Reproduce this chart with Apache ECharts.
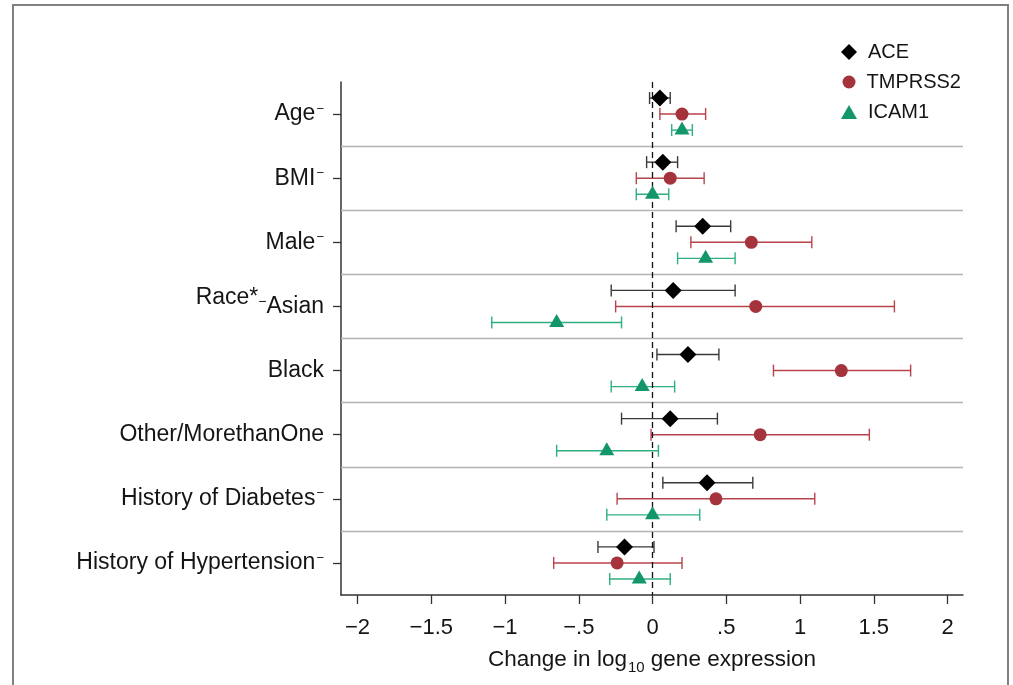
<!DOCTYPE html>
<html>
<head>
<meta charset="utf-8">
<script src="https://cdn.jsdelivr.net/npm/echarts@6/dist/echarts.min.js"></script>
<style>
  html, body { margin: 0; padding: 0; background: #fff; }
  #chart { width: 1013px; height: 685px; }
</style>
</head>
<body>
<div id="chart"></div>
<script>
// Covariate rows, top to bottom
const categories = ['Age', 'BMI', 'Male', 'Asian', 'Black', 'Other/MorethanOne', 'History of Diabetes', 'History of Hypertension'];
// Rows whose label carries the small raised dash
const dashedLabels = ['Age', 'BMI', 'Male', 'History of Diabetes', 'History of Hypertension'];

// Estimates and 95% CI bounds (change in log10 gene expression)
const aceEst  = [0.05, 0.07, 0.34, 0.14, 0.24, 0.12, 0.37, -0.19];
const aceLow  = [-0.02, -0.04, 0.16, -0.28, 0.03, -0.21, 0.07, -0.37];
const aceHigh = [0.12, 0.17, 0.53, 0.56, 0.45, 0.44, 0.68, 0.01];

const tmpEst  = [0.20, 0.12, 0.67, 0.70, 1.28, 0.73, 0.43, -0.24];
const tmpLow  = [0.05, -0.11, 0.26, -0.25, 0.82, -0.01, -0.24, -0.67];
const tmpHigh = [0.36, 0.35, 1.08, 1.64, 1.75, 1.47, 1.10, 0.20];

const icamEst  = [0.20, 0.00, 0.36, -0.65, -0.07, -0.31, 0.00, -0.09];
const icamLow  = [0.13, -0.11, 0.17, -1.09, -0.28, -0.65, -0.31, -0.29];
const icamHigh = [0.27, 0.11, 0.56, -0.21, 0.15, 0.04, 0.32, 0.12];

const xTicks = [-2, -1.5, -1, -0.5, 0, 0.5, 1, 1.5, 2];

const FONT = "'Liberation Sans', Arial, Helvetica, sans-serif";
const TEXT = '#151515';

const chart = echarts.init(document.getElementById('chart'), null, { renderer: 'canvas' });

// Vertical position of each gene within a covariate band
function rows(values, shift) {
  return values.map((v, i) => [v, i + shift]);
}
function ciRows(lows, highs, shift) {
  return lows.map((lo, i) => [lo, highs[i], i + shift]);
}

function tickLabel(v) {
  if (v === 0) return '0';
  const s = String(Math.abs(v)).replace(/^0/, '');
  return (v < 0 ? '\u2212' : '') + s;
}

function errorBars(name, data, color) {
  return {
    name: name + ' CI',
    type: 'custom',
    xAxisIndex: 0,
    yAxisIndex: 1,
    z: 3,
    silent: true,
    data: data,
    encode: { x: [0, 1], y: 2 },
    renderItem: function (params, api) {
      const y = api.value(2);
      const a = api.coord([api.value(0), y]);
      const b = api.coord([api.value(1), y]);
      const cap = 6;
      const style = { stroke: color, lineWidth: 1.4, fill: null };
      return {
        type: 'group',
        children: [
          { type: 'line', shape: { x1: a[0], y1: a[1], x2: b[0], y2: b[1] }, style: style },
          { type: 'line', shape: { x1: a[0], y1: a[1] - cap, x2: a[0], y2: a[1] + cap }, style: style },
          { type: 'line', shape: { x1: b[0], y1: b[1] - cap, x2: b[0], y2: b[1] + cap }, style: style }
        ]
      };
    }
  };
}

function legendFor(name, left, top, w, h) {
  return {
    data: [name],
    left: left,
    top: top,
    orient: 'vertical',
    padding: 0,
    itemWidth: w,
    itemHeight: h,
    selectedMode: false,
    formatter: '{t|{name}}',
    textStyle: {
      rich: { t: { fontFamily: FONT, fontSize: 20, color: TEXT, lineHeight: 22, padding: [0, 0, 0, 6] } }
    }
  };
}

const option = {
  backgroundColor: '#fff',
  animation: false,
  graphic: [
    {
      type: 'rect',
      silent: true,
      z: -10,
      shape: { x: 13, y: 5, width: 995, height: 720 },
      style: { fill: null, stroke: '#808080', lineWidth: 2 }
    }
  ],
  legend: [
    legendFor('ACE', 841, 42, 16, 16),
    legendFor('TMPRSS2', 842.5, 72, 13, 13),
    legendFor('ICAM1', 841, 102, 16, 14)
  ],
  grid: { left: 341, right: 50, top: 82, bottom: 90, containLabel: false },
  xAxis: {
    type: 'value',
    min: -2.112,
    max: 2.105,
    axisLine: { show: true, onZero: false, lineStyle: { color: '#333', width: 1.5 } },
    axisTick: { show: true, length: 9, customValues: xTicks, lineStyle: { color: '#333', width: 1.3 } },
    axisLabel: {
      customValues: xTicks,
      formatter: tickLabel,
      margin: 22,
      fontFamily: FONT,
      fontSize: 22,
      color: TEXT
    },
    splitLine: { show: false },
    name: '{a|Change in log}{s|10}{a| gene expression}',
    nameLocation: 'middle',
    nameGap: 52,
    nameTextStyle: {
      rich: {
        a: { fontFamily: FONT, fontSize: 22.5, color: TEXT, lineHeight: 26 },
        s: { fontFamily: FONT, fontSize: 15, color: TEXT, lineHeight: 16, padding: [15, 0, 0, 1] }
      }
    }
  },
  yAxis: [
    {
      type: 'category',
      data: categories,
      inverse: true,
      boundaryGap: true,
      axisLine: { show: true, onZero: false, lineStyle: { color: '#333', width: 1.5 } },
      axisTick: { show: true, alignWithLabel: true, length: 8, lineStyle: { color: '#333', width: 1.3 } },
      splitLine: { show: false },
      axisLabel: {
        margin: 17,
        interval: 0,
        formatter: function (v) {
          if (v === 'Asian') return '{raise|Race*}{rd|\u2212}{m|Asian}';
          if (dashedLabels.indexOf(v) >= 0) return '{m|' + v + '}{sup|\u2212}';
          return '{m|' + v + '}';
        },
        rich: {
          m: { fontFamily: FONT, fontSize: 23, color: TEXT, lineHeight: 24 },
          sup: { fontFamily: FONT, fontSize: 13, color: TEXT, lineHeight: 12, padding: [0, 0, 10, 1] },
          raise: { fontFamily: FONT, fontSize: 23, color: TEXT, lineHeight: 24, padding: [0, 0, 17, 0] },
          rd: { fontFamily: FONT, fontSize: 14, color: TEXT, lineHeight: 12, padding: [0, 0, 8, 0] }
        }
      }
    },
    {
      type: 'value',
      min: -0.5,
      max: 7.5,
      inverse: true,
      show: false
    }
  ],
  series: [
    {
      name: 'guides',
      type: 'line',
      xAxisIndex: 0,
      yAxisIndex: 1,
      data: [],
      silent: true,
      z: 1,
      markLine: {
        silent: true,
        symbol: ['none', 'none'],
        label: { show: false },
        animation: false,
        data: [0.5, 1.5, 2.5, 3.5, 4.5, 5.5, 6.5].map(v => ({
          yAxis: v,
          lineStyle: { color: '#b4b4b4', width: 1.3, type: 'solid' }
        })).concat([{
          xAxis: 0,
          lineStyle: { color: '#111', width: 1.3, type: [6, 4] }
        }])
      }
    },
    errorBars('ACE', ciRows(aceLow, aceHigh, -0.25), '#3a3a3a'),
    errorBars('TMPRSS2', ciRows(tmpLow, tmpHigh, 0), '#b8434b'),
    errorBars('ICAM1', ciRows(icamLow, icamHigh, 0.25), '#2eb07e'),
    {
      name: 'ACE',
      type: 'scatter',
      xAxisIndex: 0,
      yAxisIndex: 1,
      z: 5,
      symbol: 'diamond',
      symbolSize: 17,
      itemStyle: { color: '#000', opacity: 1 },
      data: rows(aceEst, -0.25)
    },
    {
      name: 'TMPRSS2',
      type: 'scatter',
      xAxisIndex: 0,
      yAxisIndex: 1,
      z: 5,
      symbol: 'circle',
      symbolSize: 13,
      itemStyle: { color: '#a5333b', opacity: 1 },
      data: rows(tmpEst, 0)
    },
    {
      name: 'ICAM1',
      type: 'scatter',
      xAxisIndex: 0,
      yAxisIndex: 1,
      z: 5,
      symbol: 'triangle',
      symbolSize: [15, 13],
      symbolOffset: [0, -2],
      itemStyle: { color: '#13966a', opacity: 1 },
      data: rows(icamEst, 0.25)
    }
  ]
};

chart.setOption(option);
</script>
</body>
</html>
